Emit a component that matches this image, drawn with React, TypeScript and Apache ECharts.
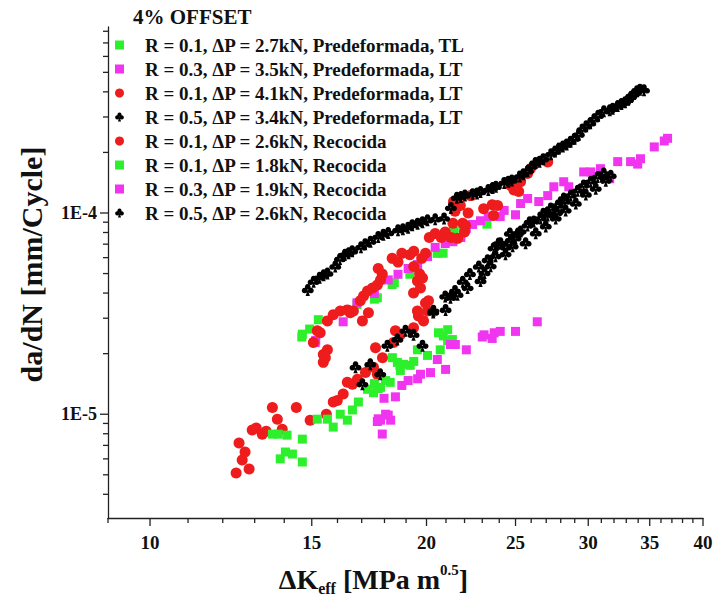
import React, { useEffect, useRef } from 'react';
import * as echarts from 'echarts';

const FONT = '"Liberation Serif", "Times New Roman", Times, serif';

// axis ranges and ticks
const X_MIN = 9;
const X_MAX = 40;
const Y_MIN = 3.05e-6;
const Y_MAX = 8.4e-4;
const xTickValues = [9, 10, 11, 12, 13, 14, 15, 16, 17, 18, 19, 20, 21, 22, 23, 24, 25, 26, 27, 28, 29, 30, 31, 32, 33, 34, 35, 36, 37, 38, 39, 40];
const xLabelValues = [10, 15, 20, 25, 30, 35, 40];
const yTickValues = [4e-6, 5e-6, 6e-6, 7e-6, 8e-6, 9e-6, 1e-5, 2e-5, 3e-5, 4e-5, 5e-5, 6e-5, 7e-5, 8e-5, 9e-5, 1e-4, 2e-4, 3e-4, 4e-4, 5e-4, 6e-4, 7e-4, 8e-4];
const yMajorValues = [1e-5, 1e-4];

const seriesNames = [
  'R = 0.1, ΔP = 2.7kN, Predeformada, TL',
  'R = 0.3, ΔP = 3.5kN, Predeformada, LT',
  'R = 0.1, ΔP = 4.1kN, Predeformada, LT',
  'R = 0.5, ΔP = 3.4kN, Predeformada, LT',
  'R = 0.1, ΔP = 2.6kN, Recocida',
  'R = 0.1, ΔP = 1.8kN, Recocida',
  'R = 0.3, ΔP = 1.9kN, Recocida',
  'R = 0.5, ΔP = 2.6kN, Recocida',
];

// [ΔKeff, da/dN]
const greenPreTL = [
  [14.63, 2.42e-5], [14.92, 2.65e-5], [14.65, 2.5e-5], [15.25, 2.95e-5], [16.8, 3.51e-5], [17.55, 3.73e-5],
  [17.68, 3.79e-5], [18.35, 4.41e-5], [18.45, 4.5e-5], [19.18, 4.96e-5], [19.55, 5.32e-5], [20.54, 6.3e-5],
  [20.85, 6.31e-5], [21.37, 7.55e-5], [21.4, 8.1e-5], [21.9, 8.4e-5], [23.27, 8.8e-5],
];

const magentaPreLT = [
  [15.13, 2.27e-5], [15.15, 2.33e-5], [16.23, 2.88e-5], [16.8, 3.58e-5], [17.55, 3.98e-5], [18.17, 4.65e-5],
  [18.62, 4.96e-5], [19.1, 5.3e-5], [19.56, 5.55e-5], [20.05, 6.07e-5], [20.44, 6.75e-5], [20.96, 7.05e-5],
  [21.37, 7.2e-5], [21.8, 7.55e-5], [22.1, 8.39e-5], [22.45, 8.77e-5], [22.9, 9.15e-5], [23.35, 9.6e-5],
  [24.06, 9.6e-5], [24.3, 1.03e-4], [25.0, 9.8e-5], [25.32, 1.114e-4], [25.77, 1.18e-4], [26.5, 1.14e-4],
  [27.1, 1.22e-4], [27.52, 1.35e-4], [28.21, 1.43e-4], [28.57, 1.35e-4], [29.66, 1.6e-4], [30.19, 1.6e-4],
  [30.93, 1.66e-4], [31.66, 1.48e-4], [32.3, 1.8e-4], [33.36, 1.8e-4], [33.96, 1.75e-4], [34.2, 1.86e-4],
  [35.4, 2.13e-4], [36.3, 2.28e-4], [36.6, 2.35e-4],
];

const redPreLT = [
  [15.06, 2.27e-5], [15.21, 2.6e-5], [15.32, 2.54e-5], [15.44, 1.98e-5], [15.44, 1.81e-5], [15.6, 2.09e-5],
  [15.52, 1.91e-5], [15.6, 2.91e-5], [15.83, 3.12e-5], [16.11, 3.26e-5], [16.4, 3.3e-5], [16.52, 3.19e-5],
  [16.65, 3.26e-5], [17.03, 2.91e-5], [17.29, 3.19e-5], [16.94, 3.66e-5], [17.08, 3.87e-5], [17.25, 4.1e-5],
  [17.47, 4.24e-5], [17.68, 4.39e-5], [17.82, 4.64e-5], [17.72, 5.3e-5], [17.9, 4.97e-5], [18.35, 5.95e-5],
  [18.62, 5.7e-5], [18.8, 6.3e-5], [19.18, 6.2e-5], [19.37, 6.45e-5], [19.76, 5.95e-5], [19.95, 6.3e-5],
  [20.14, 7.55e-5], [20.44, 7.9e-5], [20.75, 7.55e-5], [20.96, 8.05e-5], [21.26, 7.55e-5], [21.37, 8.9e-5],
  [21.48, 1.02e-4], [21.58, 1.14e-4], [21.69, 1.09e-4], [21.9, 8.9e-5], [22.0, 8.05e-5], [22.2, 1.0e-4],
  [21.4, 1.14e-4], [21.77, 1.09e-4], [22.33, 1.22e-4], [23.08, 1.05e-4], [23.9, 1.09e-4], [23.66, 9.72e-5],
  [24.7, 1.37e-4], [25.32, 1.43e-4], [25.2, 1.28e-4], [25.77, 1.57e-4], [25.95, 1.66e-4], [27.1, 1.79e-4],
  [22.05, 8.67e-5], [21.62, 7.48e-5], [23.58, 1.1e-4], [24.9, 1.3e-4],
];

const blackPreLT = [
  [14.85, 4.14e-5], [15.07, 4.55e-5], [15.3, 4.77e-5], [15.45, 4.9e-5], [15.6, 5.0e-5], [15.91, 5.42e-5],
  [16.1, 5.9e-5], [16.3, 6.2e-5], [16.45, 6.3e-5], [16.6, 6.45e-5], [16.97, 6.75e-5], [17.15, 7.0e-5],
  [17.38, 7.2e-5], [17.72, 7.6e-5], [17.95, 7.8e-5], [18.17, 7.95e-5], [18.62, 8.2e-5], [18.85, 8.3e-5],
  [19.1, 8.45e-5], [19.3, 8.7e-5], [19.56, 8.85e-5], [19.8, 9.0e-5], [20.05, 9.2e-5], [20.44, 9.3e-5],
  [20.9, 9.39e-5], [21.26, 1.06e-4], [21.58, 1.19e-4], [21.8, 1.2e-4], [22.02, 1.22e-4], [22.45, 1.24e-4],
  [22.7, 1.25e-4], [22.9, 1.27e-4], [23.35, 1.3e-4], [23.6, 1.33e-4], [23.8, 1.35e-4], [24.3, 1.41e-4],
  [24.55, 1.43e-4], [24.77, 1.45e-4], [25.27, 1.52e-4], [25.5, 1.56e-4], [25.77, 1.61e-4], [26.05, 1.7e-4],
  [26.28, 1.77e-4], [26.55, 1.8e-4], [26.8, 1.85e-4], [27.33, 1.96e-4], [27.6, 2.02e-4], [27.87, 2.09e-4],
  [28.15, 2.14e-4], [28.42, 2.19e-4], [28.7, 2.26e-4], [28.99, 2.34e-4], [29.3, 2.45e-4], [29.56, 2.6e-4],
  [29.85, 2.7e-4], [30.15, 2.79e-4], [30.45, 2.92e-4], [30.75, 3.04e-4], [31.2, 3.2e-4], [31.66, 3.24e-4],
  [31.9, 3.3e-4], [32.3, 3.4e-4], [32.6, 3.48e-4], [32.9, 3.55e-4], [33.15, 3.65e-4], [33.4, 3.78e-4],
  [33.65, 3.9e-4], [33.9, 4.03e-4], [34.15, 4.1e-4], [34.5, 4.07e-4],
];

const redRec = [
  [12.41, 5.11e-6], [12.82, 5.35e-6], [12.6, 5.93e-6], [12.69, 6.49e-6], [12.5, 7.19e-6], [12.92, 8.34e-6],
  [13.05, 8.53e-6], [13.25, 7.96e-6], [13.38, 8.24e-6], [13.59, 1.08e-5], [13.76, 9.45e-6], [13.93, 8.43e-6],
  [14.43, 1.08e-5], [14.94, 9.34e-6], [15.56, 1.0e-5], [15.83, 1.15e-5], [15.99, 1.17e-5], [16.23, 1.26e-5],
  [16.4, 1.44e-5], [16.61, 1.41e-5], [16.82, 1.49e-5], [17.16, 1.61e-5], [17.51, 1.71e-5], [17.68, 1.58e-5],
  [17.91, 1.91e-5], [17.6, 2.14e-5], [18.41, 2.27e-5], [18.5, 2.6e-5], [18.73, 2.48e-5], [19.36, 2.69e-5],
  [19.6, 3.08e-5], [19.55, 3.26e-5], [19.85, 2.91e-5], [20.05, 3.26e-5], [19.95, 3.57e-5], [20.1, 3.66e-5],
  [19.36, 4.0e-5], [19.7, 4.24e-5], [19.55, 4.59e-5], [19.8, 4.75e-5], [19.37, 5.42e-5], [19.66, 4.97e-5],
];

const greenRec = [
  [13.59, 7.96e-6], [13.79, 7.96e-6], [14.1, 7.87e-6], [14.65, 7.52e-6], [13.86, 6.0e-6], [14.04, 6.49e-6],
  [14.29, 6.34e-6], [14.65, 5.79e-6], [15.21, 9.45e-6], [15.6, 9.45e-6], [15.83, 8.63e-6], [16.11, 1.0e-5],
  [16.4, 9.34e-6], [16.61, 1.05e-5], [16.86, 1.15e-5], [17.25, 1.33e-5], [17.51, 1.28e-5], [17.55, 1.42e-5],
  [17.72, 1.34e-5], [17.82, 1.36e-5], [18.05, 1.47e-5], [18.26, 1.44e-5], [18.36, 1.91e-5], [18.59, 1.81e-5],
  [18.71, 1.75e-5], [18.88, 1.77e-5], [19.2, 1.75e-5], [18.73, 1.65e-5], [19.37, 1.83e-5], [19.55, 2.09e-5],
  [20.05, 1.96e-5], [20.61, 2.54e-5], [21.09, 2.63e-5], [21.09, 2.32e-5], [20.7, 2.09e-5], [21.34, 2.35e-5],
  [20.86, 2.45e-5],
];

const magentaRec = [
  [17.9, 7.97e-6], [17.72, 9.49e-6], [17.82, 9.34e-6], [18.05, 1.0e-5], [18.28, 9.34e-6], [18.17, 9.9e-6],
  [17.68, 9.2e-6], [17.98, 1.2e-5], [18.5, 1.22e-5], [18.8, 1.39e-5], [19.1, 1.47e-5], [19.56, 1.5e-5],
  [19.7, 1.58e-5], [20.2, 1.61e-5], [20.55, 1.87e-5], [20.98, 1.67e-5], [21.24, 2.22e-5], [21.5, 2.22e-5],
  [22.1, 2.09e-5], [23.0, 2.42e-5], [23.1, 2.48e-5], [23.58, 2.38e-5], [23.7, 2.54e-5], [24.06, 2.58e-5],
  [25.0, 2.58e-5], [26.4, 2.88e-5],
];

const blackRec = [
  [16.74, 1.71e-5], [17.37, 1.77e-5], [17.81, 1.58e-5], [17.03, 1.41e-5], [18.13, 2.19e-5], [18.59, 2.35e-5],
  [18.97, 2.6e-5], [19.36, 2.48e-5], [19.8, 2.19e-5], [20.35, 3.27e-5], [20.98, 3.3e-5], [21.24, 3.79e-5],
  [21.62, 3.92e-5], [22.17, 4.24e-5], [22.9, 4.59e-5], [23.13, 5.03e-5], [23.31, 5.83e-5], [23.49, 5.44e-5],
  [23.78, 6.1e-5], [24.38, 6.24e-5], [24.82, 6.83e-5], [25.0, 7.48e-5], [23.66, 6.68e-5], [24.08, 7.07e-5],
  [24.7, 7.31e-5], [25.32, 8.1e-5], [25.77, 8.67e-5], [26.17, 9.08e-5], [26.63, 9.39e-5], [27.1, 9.72e-5],
  [27.31, 1.053e-4], [27.79, 1.089e-4], [28.21, 1.18e-4], [28.71, 1.22e-4], [29.22, 1.29e-4], [29.66, 1.37e-4],
  [30.19, 1.43e-4], [30.72, 1.51e-4], [31.19, 1.57e-4], [31.74, 1.53e-4], [25.64, 7.07e-5], [26.3, 7.92e-5],
  [26.97, 8.58e-5], [27.65, 9.39e-5], [28.35, 1.029e-4], [29.08, 1.114e-4], [29.82, 1.234e-4], [30.57, 1.321e-4],
  [31.35, 1.447e-4], [20.34, 3.2e-5], [20.96, 3.85e-5], [21.48, 4.1e-5], [21.9, 4.55e-5], [22.3, 4.97e-5],
  [22.8, 5.42e-5], [23.96, 7.05e-5], [24.4, 6.75e-5], [24.65, 7.9e-5], [25.15, 7.9e-5], [25.9, 9.0e-5],
  [26.8, 9.9e-5], [27.74, 1.0e-4], [28.3, 1.14e-4],
];

const GREEN = '#2df02d';
const MAGENTA = '#f034f0';
const RED = '#ee1c1c';
const BLACK = '#000000';
const CLUB = 'path://M50,8A20,20 0 1,1 49.99,8Z M28,35A20,20 0 1,1 27.99,35Z M72,35A20,20 0 1,1 71.99,35Z M50,50L65,95L35,95Z';

const seriesData = [greenPreTL, magentaPreLT, redPreLT, blackPreLT, redRec, greenRec, magentaRec, blackRec];
const seriesStyle = [
  { symbol: 'rect', size: 9, color: GREEN },
  { symbol: 'rect', size: 9, color: MAGENTA },
  { symbol: 'circle', size: 11, color: RED },
  { symbol: CLUB, size: 12, color: BLACK },
  { symbol: 'circle', size: 11, color: RED },
  { symbol: 'rect', size: 9, color: GREEN },
  { symbol: 'rect', size: 9, color: MAGENTA },
  { symbol: CLUB, size: 12, color: BLACK },
];

function isPow10(v: number) {
  const l = Math.log10(v);
  return Math.abs(l - Math.round(l)) < 1e-6;
}

export default function App() {
  const ref = useRef<HTMLDivElement>(null);
  useEffect(() => {
    document.body.style.margin = '0';
    document.body.style.overflow = 'hidden';
    if (!ref.current) return;
    const chart = echarts.init(ref.current, undefined, { renderer: 'svg' });

    const scatterSeries = seriesNames.map((name, i) => ({
      type: 'scatter',
      name,
      data: seriesData[i],
      symbol: seriesStyle[i].symbol,
      symbolSize: seriesStyle[i].size,
      itemStyle: { color: seriesStyle[i].color, opacity: 1 },
      z: 2 + i,
      silent: true,
    }));

    const option: any = {
      animation: false,
      backgroundColor: '#ffffff',
      title: {
        text: '4% OFFSET',
        left: 133,
        top: 6,
        padding: 0,
        textStyle: { fontFamily: FONT, fontSize: 21, fontWeight: 'bold', color: '#111' },
      },
      legend: {
        data: seriesNames,
        orient: 'vertical',
        left: 115,
        top: 35,
        padding: 0,
        itemWidth: 9,
        itemHeight: 9,
        itemGap: 4,
        selectedMode: false,
        textStyle: {
          fontFamily: FONT,
          fontSize: 19,
          fontWeight: 'bold',
          color: '#111',
          lineHeight: 20,
          padding: [0, 0, 0, 16],
        },
      },
      grid: { left: 108, right: 11, top: 27, bottom: 80, containLabel: false },
      xAxis: {
        type: 'log',
        logBase: 10,
        min: X_MIN,
        max: X_MAX,
        axisLine: { onZero: false, lineStyle: { color: '#222', width: 1.3 } },
        axisTick: { show: false },
        axisLabel: { show: false },
        splitLine: { show: false },
        name: '{a|ΔK}{b|eff}{a| [MPa m}{c|0.5}{a|]}',
        nameLocation: 'middle',
        nameGap: 44,
        nameTextStyle: {
          padding: [0, 64, 0, 0],
          rich: {
            a: { fontFamily: FONT, fontSize: 28, fontWeight: 'bold', color: '#111', lineHeight: 34 },
            b: { fontFamily: FONT, fontSize: 16, fontWeight: 'bold', color: '#111', lineHeight: 2, verticalAlign: 'bottom' },
            c: { fontFamily: FONT, fontSize: 15, fontWeight: 'bold', color: '#111', lineHeight: 8, verticalAlign: 'top' },
          },
        },
      },
      yAxis: {
        type: 'log',
        logBase: 10,
        min: Y_MIN,
        max: Y_MAX,
        axisLine: { onZero: false, lineStyle: { color: '#222', width: 1.3 } },
        axisTick: { show: false },
        splitLine: { show: false },
        axisLabel: {
          margin: 11,
          fontFamily: FONT,
          fontSize: 18,
          fontWeight: 'bold',
          color: '#111',
          formatter: (v: number) => (isPow10(v) ? '1E' + Math.round(Math.log10(v)) : ''),
        },
        name: 'da/dN [mm/Cycle]',
        nameLocation: 'middle',
        nameGap: 62,
        nameRotate: 90,
        nameTextStyle: { fontFamily: FONT, fontSize: 30, fontWeight: 'bold', color: '#111', padding: [0, 0, 0, 16] },
      },
      series: [
        ...scatterSeries,
        {
          type: 'custom',
          name: 'xTicks',
          coordinateSystem: 'cartesian2d',
          silent: true,
          clip: false,
          z: 20,
          data: xTickValues.map((v) => [v, Y_MIN]),
          renderItem: (params: any, api: any) => {
            const v = api.value(0);
            const p = api.coord([v, Y_MIN]);
            const major = xLabelValues.indexOf(v) >= 0;
            const children: any[] = [
              {
                type: 'line',
                shape: { x1: p[0], y1: p[1], x2: p[0], y2: p[1] + (major ? 8 : 5) },
                style: { stroke: '#222', lineWidth: 1.3 },
              },
            ];
            if (major) {
              children.push({
                type: 'text',
                style: {
                  text: String(v),
                  x: p[0],
                  y: p[1] + 15,
                  align: 'center',
                  verticalAlign: 'top',
                  fontFamily: FONT,
                  fontSize: 19,
                  fontWeight: 'bold',
                  fill: '#111',
                },
              });
            }
            return { type: 'group', children };
          },
        },
        {
          type: 'custom',
          name: 'yTicks',
          coordinateSystem: 'cartesian2d',
          silent: true,
          clip: false,
          z: 20,
          data: yTickValues.map((v) => [X_MIN, v]),
          renderItem: (params: any, api: any) => {
            const v = api.value(1);
            const p = api.coord([X_MIN, v]);
            const major = yMajorValues.some((m) => Math.abs(m - v) / m < 1e-6);
            return {
              type: 'line',
              shape: { x1: p[0], y1: p[1], x2: p[0] - (major ? 8 : 5), y2: p[1] },
              style: { stroke: '#222', lineWidth: 1.3 },
            };
          },
        },
      ],
    };
    chart.setOption(option);
    return () => chart.dispose();
  }, []);
  return <div ref={ref} style={{ width: 714, height: 601 }} />;
}
